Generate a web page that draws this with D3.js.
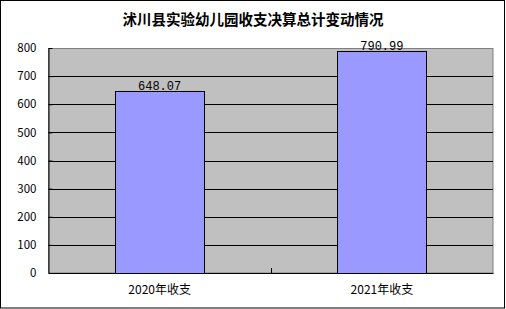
<!DOCTYPE html>
<html>
<head>
<meta charset="utf-8">
<script src="https://cdn.jsdelivr.net/npm/d3@7"></script>
<style>
  body { margin: 0; background: #fff; }
  svg { display: block; }
</style>
</head>
<body>
<div id="chart"></div>
<script>
var title = '沭川县实验幼儿园收支决算总计变动情况';
var categories = ['2020年收支', '2021年收支'];
var values = [648.07, 790.99];
var valueLabels = ['648.07', '790.99'];
var yTicks = [0, 100, 200, 300, 400, 500, 600, 700, 800];

var width = 506, height = 309;
var plot = { left: 48.5, top: 48, right: 493, bottom: 273 };
var font = '"Noto Sans CJK SC", "DejaVu Sans", sans-serif';
var monoFont = '"Liberation Mono", "DejaVu Sans Mono", monospace';

var svg = d3.select('#chart').append('svg')
    .attr('width', width)
    .attr('height', height);

// outer frame
svg.append('rect')
    .attr('x', 0.5).attr('y', 0.5)
    .attr('width', 504).attr('height', 307.5)
    .attr('fill', '#fff')
    .attr('stroke', '#000');

svg.append('text')
    .attr('x', 253).attr('y', 25)
    .attr('text-anchor', 'middle')
    .attr('font-family', font)
    .attr('font-size', 14.5)
    .attr('font-weight', 'bold')
    .text(title);

var x = d3.scaleBand()
    .domain(categories)
    .range([plot.left, plot.right])
    .paddingInner(0.6).paddingOuter(0.3);

var xOuter = d3.scaleBand()
    .domain(categories)
    .range([plot.left, plot.right]);

var y = d3.scaleLinear()
    .domain([0, 800])
    .range([plot.bottom, plot.top]);

// plot background
svg.append('rect')
    .attr('x', plot.left).attr('y', plot.top + 0.5)
    .attr('width', plot.right - plot.left)
    .attr('height', plot.bottom - plot.top - 0.5)
    .attr('fill', '#c0c0c0')
    .attr('stroke', '#808080');

// gridlines
svg.append('g')
    .selectAll('line')
    .data(yTicks.filter(function(d) { return d > 0 && d < 800; }))
    .enter().append('line')
    .attr('x1', plot.left).attr('x2', plot.right)
    .attr('y1', function(d) { return Math.round(y(d)) + 0.5; })
    .attr('y2', function(d) { return Math.round(y(d)) + 0.5; })
    .attr('stroke', '#000');

// bars
svg.append('g')
    .selectAll('rect')
    .data(values)
    .enter().append('rect')
    .attr('x', function(d, i) { return Math.round(x(categories[i])) + 0.5; })
    .attr('y', function(d) { return Math.round(y(d)) + 0.5; })
    .attr('width', Math.round(x.bandwidth()))
    .attr('height', function(d) { return Math.round(plot.bottom - y(d)); })
    .attr('fill', '#9999ff')
    .attr('stroke', '#000');

// value labels
svg.append('g')
    .selectAll('text')
    .data(values)
    .enter().append('text')
    .attr('x', function(d, i) { return x(categories[i]) + x.bandwidth() / 2; })
    .attr('y', function(d) { return y(d) - 1; })
    .attr('text-anchor', 'middle')
    .attr('font-family', monoFont)
    .attr('font-size', 12)
    .text(function(d, i) { return valueLabels[i]; });

// y axis
var yAxis = d3.axisLeft(y)
    .tickValues(yTicks)
    .tickSize(-4)
    .tickPadding(12)
    .tickSizeOuter(0);

var ya = svg.append('g')
    .attr('transform', 'translate(' + plot.left + ',0)')
    .call(yAxis);
ya.select('.domain').attr('stroke', '#000');
ya.selectAll('text')
    .attr('font-family', font)
    .attr('font-size', 11.5)
    .attr('fill', '#000');

// x axis
var xa = svg.append('g')
    .attr('transform', 'translate(0,' + plot.bottom + ')')
    .call(d3.axisBottom(xOuter).tickSize(0).tickPadding(12));
xa.select('.domain').attr('stroke', '#000');
xa.selectAll('text')
    .attr('font-family', font)
    .attr('font-size', 12)
    .attr('fill', '#000');

// category separator tick
xa.append('line')
    .attr('x1', Math.round(xOuter(categories[1])) + 0.5)
    .attr('x2', Math.round(xOuter(categories[1])) + 0.5)
    .attr('y1', 0).attr('y2', -5)
    .attr('stroke', '#000');
</script>
</body>
</html>
